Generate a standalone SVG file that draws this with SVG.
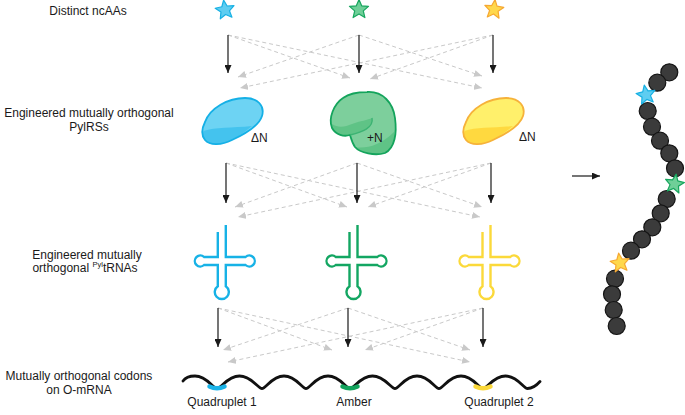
<svg xmlns="http://www.w3.org/2000/svg" width="685" height="415" viewBox="0 0 685 415">
<style>
text{font-family:"Liberation Sans",Arial,sans-serif;font-size:12px;fill:#1a1a1a}
.lbl{text-anchor:middle}
.solid{stroke:#1a1a1a;stroke-width:1.2;fill:none;marker-end:url(#ah)}
.dash{stroke:#c9c9c9;stroke-width:1;fill:none;stroke-dasharray:4 3;marker-end:url(#ahg)}
.sb{fill:#5ecdf1;stroke:#18b1e4;stroke-width:1.2;stroke-linejoin:round}
.sg{fill:#6fcf98;stroke:#17a65e;stroke-width:1.2;stroke-linejoin:round}
.sy{fill:#ffd84c;stroke:#f6a832;stroke-width:1.2;stroke-linejoin:round}
.trna{fill:none;stroke-width:2.4}
.bead{fill:#3b3b3b;stroke:#151515;stroke-width:1.2}
</style>
<defs>
<marker id="ah" viewBox="0 0 8 7" markerUnits="userSpaceOnUse" markerWidth="8" markerHeight="7" refX="8" refY="3.5" orient="auto"><path d="M0,0 L8,3.5 L0,7 Z" fill="#1a1a1a"/></marker>
<marker id="ahg" viewBox="0 0 8 7" markerUnits="userSpaceOnUse" markerWidth="8" markerHeight="7" refX="8" refY="3.5" orient="auto"><path d="M0,0 L8,3.5 L0,7 Z" fill="#c9c9c9"/></marker>
<polygon id="star" points="0,-10 2.66,-3.66 9.51,-3.09 4.3,1.4 5.88,8.09 0,4.5 -5.88,8.09 -4.3,1.4 -9.51,-3.09 -2.66,-3.66"/>
<path id="blob" d="M205,122 C210,108 228,98 245,98 C258,98 265,106 262,116 C259,126 245,134 232,140 C222,145 210,146 205,140 C201,135 202,128 205,122 Z"/>
<path id="blobdark" d="M203.5,131 C215,127 232,128 252,126 C246,131 239,136 232,140 C222,145 210,146 205,140 C202,137 202.5,134 203.5,131 Z"/>
<path id="trnaPath" d="M-4,232 L-4,257 L-17.7,257 A5.5 5.5 0 1 0 -17.7,265 L-4,265 L-4,286.3 A7 7 0 1 0 4,286.3 L4,265 L23.7,265 A5.5 5.5 0 1 0 23.7,257 L4,257 L4,225"/>
</defs>

<g id="row-labels">
<text class="lbl" x="88" y="15">Distinct ncAAs</text>
<text class="lbl" x="89" y="117">Engineered mutually orthogonal</text>
<text class="lbl" x="89" y="131">PylRSs</text>
<text class="lbl" x="87" y="258.5">Engineered mutually</text>
<text class="lbl" x="85" y="272">orthogonal <tspan font-size="7.5" dy="-5">Pyl</tspan><tspan dy="5">tRNAs</tspan></text>
<text class="lbl" x="79" y="380">Mutually orthogonal codons</text>
<text class="lbl" x="79" y="394">on O-mRNA</text>
</g>

<g id="ncAA-blue"><use href="#star" class="sb" transform="translate(225,10) rotate(-8)"/></g>
<g id="ncAA-green"><use href="#star" class="sg" transform="translate(359,9.5)"/></g>
<g id="ncAA-orange"><use href="#star" class="sy" transform="translate(494,9.5) rotate(6)"/></g>

<g id="pylrs-blue">
<use href="#blob" fill="#6dd3f3"/>
<use href="#blobdark" fill="#44c3ee"/>
<use href="#blob" fill="none" stroke="#15b0e6" stroke-width="1.8"/>
<text x="251" y="142">ΔN</text>
</g>
<g id="pylrs-green">
<path d="M367,92 C383,91 393,103 395,118 C397,133 395,148 385,153 C375,156 360,153 355,147 C352,143 351,138 350,135 C344,137 336,135 332,128 C328,118 334,104 343,98 C350,93 358,92 367,92 Z" fill="#7dcf9c"/>
<path d="M332,124 C338,128 345,127 352,124 C360,121 368,120 372,118 C374,128 362,132 350,135 C344,137 336,135 332,128 Z" fill="#5fc386"/>
<path d="M394,132 C395,142 393,149 385,153 C375,156 360,153 355,147 C365,149 380,146 394,132 Z" fill="#5fc386"/>
<path d="M367,92 C383,91 393,103 395,118 C397,133 395,148 385,153 C375,156 360,153 355,147 C352,143 351,138 350,135 C344,137 336,135 332,128 C328,118 334,104 343,98 C350,93 358,92 367,92 Z" fill="none" stroke="#14a45c" stroke-width="1.8"/>
<path d="M372,118 C374,128 362,132 350,135" fill="none" stroke="#3cb373" stroke-width="1.4"/>
<text x="367" y="142">+N</text>
</g>
<g id="pylrs-orange">
<g transform="translate(261,0)">
<use href="#blob" fill="#fff06b"/>
<use href="#blobdark" fill="#ffd93f"/>
<use href="#blob" fill="none" stroke="#f6b23a" stroke-width="1.8"/>
</g>
<text x="519" y="141">ΔN</text>
</g>

<g id="trna-blue"><use href="#trnaPath" class="trna" stroke="#17b2e6" transform="translate(221.8,0)"/></g>
<g id="trna-green"><use href="#trnaPath" class="trna" stroke="#13a662" transform="translate(353.5,0)"/></g>
<g id="trna-orange"><use href="#trnaPath" class="trna" stroke="#fbd93a" transform="translate(486.5,0)"/></g>

<g id="mrna">
<path d="M183,381 C186,376.5 190,376 195,376 C207,376 213,388.5 217,388.5 C221,388.5 227.5,376 239.5,376 C251.5,376 258,388.5 262,388.5 C266,388.5 272,376 284,376 C296,376 302,388.5 306,388.5 C310,388.5 316,376 328,376 C340,376 346,388.5 350,388.5 C354,388.5 360.5,376 372.5,376 C384.5,376 391,388.5 395,388.5 C399,388.5 405,376 417,376 C429,376 435,388.5 439,388.5 C443,388.5 449,376 461,376 C473,376 479,388.5 483,388.5 C487,388.5 493.5,376 505.5,376 C517.5,376 523.5,388.5 527.5,388.5 C532,388.5 536,386 540,381.5" fill="none" stroke="#111" stroke-width="2.8" stroke-linecap="round"/>
<path d="M209.5,386.5 Q217,390 224.5,386.5" fill="none" stroke="#1ab3e8" stroke-width="4.5" stroke-linecap="round"/>
<path d="M342.5,386.5 Q350,390 357.5,386.5" fill="none" stroke="#12a35c" stroke-width="4.5" stroke-linecap="round"/>
<path d="M475.5,386.5 Q483,390 490.5,386.5" fill="none" stroke="#fbd83a" stroke-width="4.5" stroke-linecap="round"/>
<text class="lbl" x="222" y="406">Quadruplet 1</text>
<text class="lbl" x="354" y="406">Amber</text>
<text class="lbl" x="499" y="406">Quadruplet 2</text>
</g>

<g id="peptide">
<circle class="bead" cx="669.3" cy="72.3" r="8.5"/>
<circle class="bead" cx="657.3" cy="82.7" r="8.5"/>
<circle class="bead" cx="647.7" cy="111" r="8.5"/>
<circle class="bead" cx="652" cy="126.7" r="8.5"/>
<circle class="bead" cx="660" cy="140.7" r="8.5"/>
<circle class="bead" cx="669.3" cy="153.3" r="8.5"/>
<circle class="bead" cx="675" cy="168.3" r="8.5"/>
<circle class="bead" cx="666.7" cy="199" r="8.5"/>
<circle class="bead" cx="660.7" cy="213.3" r="8.5"/>
<circle class="bead" cx="652.3" cy="227.3" r="8.5"/>
<circle class="bead" cx="642" cy="239.3" r="8.5"/>
<circle class="bead" cx="631" cy="250.7" r="8.5"/>
<circle class="bead" cx="615" cy="278.7" r="8.5"/>
<circle class="bead" cx="612" cy="294.3" r="8.5"/>
<circle class="bead" cx="613.7" cy="310" r="8.5"/>
<circle class="bead" cx="616.7" cy="326" r="8.5"/>
<use href="#star" class="sb" transform="translate(646,95) rotate(-10)"/>
<use href="#star" class="sg" transform="translate(674.5,184) rotate(10)"/>
<use href="#star" class="sy" transform="translate(620,263) rotate(-8)"/>
</g>

<g id="connectors">
<line class="dash" x1="228" y1="35" x2="350" y2="78"/>
<line class="dash" x1="228" y1="35" x2="482" y2="88"/>
<line class="dash" x1="359" y1="35" x2="238" y2="77"/>
<line class="dash" x1="359" y1="35" x2="482" y2="76"/>
<line class="dash" x1="493" y1="35" x2="240" y2="88"/>
<line class="dash" x1="493" y1="35" x2="370" y2="79"/>
<line class="solid" x1="228" y1="35" x2="228" y2="73"/>
<line class="solid" x1="359" y1="35" x2="359" y2="73"/>
<line class="solid" x1="493" y1="35" x2="493" y2="73"/>

<line class="dash" x1="226" y1="163" x2="347" y2="207"/>
<line class="dash" x1="226" y1="163" x2="480" y2="217"/>
<line class="dash" x1="357" y1="163" x2="235" y2="207"/>
<line class="dash" x1="357" y1="163" x2="482" y2="207"/>
<line class="dash" x1="491" y1="163" x2="238" y2="217"/>
<line class="dash" x1="491" y1="163" x2="368" y2="207"/>
<line class="solid" x1="226" y1="163" x2="226" y2="203"/>
<line class="solid" x1="357" y1="163" x2="357" y2="203"/>
<line class="solid" x1="491" y1="163" x2="491" y2="203"/>

<line class="dash" x1="218" y1="308" x2="332" y2="350"/>
<line class="dash" x1="218" y1="308" x2="470" y2="362"/>
<line class="dash" x1="348" y1="308" x2="223" y2="350"/>
<line class="dash" x1="348" y1="308" x2="470" y2="350"/>
<line class="dash" x1="483" y1="308" x2="228" y2="362"/>
<line class="dash" x1="483" y1="308" x2="365" y2="350"/>
<line class="solid" x1="218" y1="308" x2="218" y2="347"/>
<line class="solid" x1="348" y1="308" x2="348" y2="347"/>
<line class="solid" x1="483" y1="308" x2="483" y2="347"/>

<line class="solid" x1="572" y1="176" x2="600" y2="176"/>
</g>
</svg>
